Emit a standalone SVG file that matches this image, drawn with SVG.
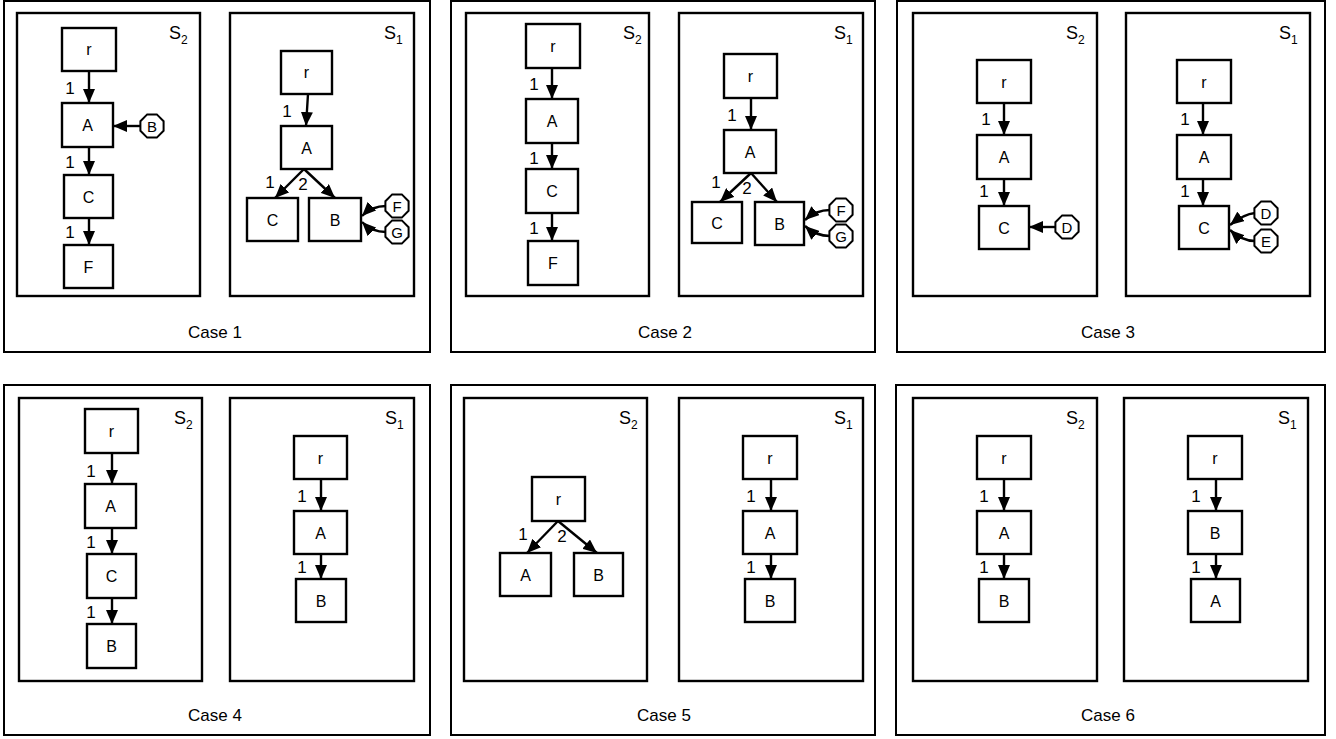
<svg xmlns="http://www.w3.org/2000/svg" xmlns:xlink="http://www.w3.org/1999/xlink" width="1336" height="739" viewBox="0 0 1336 739">
<style>
.frame{fill:#fff;stroke:#000;stroke-width:2}
.sbox{fill:none;stroke:#000;stroke-width:2.4}
.n{fill:#fff;stroke:#000;stroke-width:2.4}
.o{fill:#fff;stroke:#000;stroke-width:2}
.e{fill:none;stroke:#000;stroke-width:2.4;marker-end:url(#ah)}
text{font-family:"Liberation Sans",Arial,Helvetica,sans-serif;fill:#000}
.nt{font-size:16px;text-anchor:middle}
.ot{font-size:15px;text-anchor:middle}
.el{font-size:17px;text-anchor:middle}
.sl{font-size:18px}
.sub{font-size:12px}
.cl{font-size:17px;text-anchor:middle}
</style>
<defs>
<marker id="ah" viewBox="0 0 14 12" refX="14" refY="6" markerWidth="14" markerHeight="12" markerUnits="userSpaceOnUse" orient="auto">
<path d="M0,0 L14,6 L0,12 z" fill="#000"/>
</marker>
<polygon id="oct" points="11.6,4.8 4.8,11.6 -4.8,11.6 -11.6,4.8 -11.6,-4.8 -4.8,-11.6 4.8,-11.6 11.6,-4.8"/>
</defs>
<rect width="1336" height="739" fill="#fff"/>

<!-- ===== Case 1 ===== -->
<g id="case1">
<rect class="frame" x="4" y="1" width="426" height="351"/>
<rect class="sbox" x="17" y="13" width="183" height="283"/>
<text class="sl" x="169" y="39">S<tspan class="sub" dy="5">2</tspan></text>
<rect class="sbox" x="230" y="13" width="184" height="283"/>
<text class="sl" x="384" y="39">S<tspan class="sub" dy="5">1</tspan></text>
<text class="cl" x="215" y="338">Case 1</text>
</g>
<g id="c1s2-r"><rect class="n" x="62" y="28" width="54" height="43"/><text class="nt" x="89" y="55">r</text></g>
<g id="c1s2-A"><rect class="n" x="62" y="103" width="51" height="44"/><text class="nt" x="87.5" y="131">A</text></g>
<g id="c1s2-C"><rect class="n" x="64" y="175" width="49" height="43"/><text class="nt" x="88.5" y="202.5">C</text></g>
<g id="c1s2-F"><rect class="n" x="64" y="245" width="49" height="43"/><text class="nt" x="88.5" y="272.5">F</text></g>
<g id="c1s2-B"><use href="#oct" class="o" x="152" y="126"/><text class="ot" x="152" y="131.5">B</text></g>
<g id="c1s1-r"><rect class="n" x="281" y="51" width="51" height="43"/><text class="nt" x="306.5" y="78">r</text></g>
<g id="c1s1-A"><rect class="n" x="281" y="126" width="51" height="43"/><text class="nt" x="306.5" y="153.5">A</text></g>
<g id="c1s1-C"><rect class="n" x="247" y="198" width="51" height="43"/><text class="nt" x="272.5" y="225.5">C</text></g>
<g id="c1s1-B"><rect class="n" x="309" y="198" width="52" height="43"/><text class="nt" x="335" y="225.5">B</text></g>
<g id="c1s1-F"><use href="#oct" class="o" x="397" y="206"/><text class="ot" x="397" y="211.5">F</text></g>
<g id="c1s1-G"><use href="#oct" class="o" x="397" y="232"/><text class="ot" x="397" y="237.5">G</text></g>

<!-- ===== Case 2 ===== -->
<g id="case2">
<rect class="frame" x="451" y="1" width="424" height="351"/>
<rect class="sbox" x="466" y="13" width="183" height="283"/>
<text class="sl" x="623" y="39">S<tspan class="sub" dy="5">2</tspan></text>
<rect class="sbox" x="679" y="13" width="184" height="283"/>
<text class="sl" x="834" y="39">S<tspan class="sub" dy="5">1</tspan></text>
<text class="cl" x="665" y="338">Case 2</text>
</g>
<g id="c2s2-r"><rect class="n" x="526" y="24" width="54" height="44"/><text class="nt" x="553" y="52">r</text></g>
<g id="c2s2-A"><rect class="n" x="526" y="99" width="52" height="44"/><text class="nt" x="552" y="127">A</text></g>
<g id="c2s2-C"><rect class="n" x="526" y="169" width="52" height="44"/><text class="nt" x="552" y="197">C</text></g>
<g id="c2s2-F"><rect class="n" x="528" y="241" width="50" height="44"/><text class="nt" x="553" y="269">F</text></g>
<g id="c2s1-r"><rect class="n" x="724" y="54" width="53" height="44"/><text class="nt" x="750.5" y="82">r</text></g>
<g id="c2s1-A"><rect class="n" x="724" y="130" width="52" height="43"/><text class="nt" x="750" y="157.5">A</text></g>
<g id="c2s1-C"><rect class="n" x="692" y="202" width="50" height="41"/><text class="nt" x="717" y="228.5">C</text></g>
<g id="c2s1-B"><rect class="n" x="755" y="202" width="49" height="43"/><text class="nt" x="779.5" y="229.5">B</text></g>
<g id="c2s1-F"><use href="#oct" class="o" x="841" y="210"/><text class="ot" x="841" y="215.5">F</text></g>
<g id="c2s1-G"><use href="#oct" class="o" x="841" y="236"/><text class="ot" x="841" y="241.5">G</text></g>

<!-- ===== Case 3 ===== -->
<g id="case3">
<rect class="frame" x="897" y="1" width="428" height="351"/>
<rect class="sbox" x="913" y="13" width="184" height="283"/>
<text class="sl" x="1066" y="39">S<tspan class="sub" dy="5">2</tspan></text>
<rect class="sbox" x="1126" y="13" width="184" height="283"/>
<text class="sl" x="1279" y="39">S<tspan class="sub" dy="5">1</tspan></text>
<text class="cl" x="1108" y="338">Case 3</text>
</g>
<g id="c3s2-r"><rect class="n" x="977" y="60" width="54" height="43"/><text class="nt" x="1004" y="87.5">r</text></g>
<g id="c3s2-A"><rect class="n" x="977" y="135" width="54" height="44"/><text class="nt" x="1004" y="163">A</text></g>
<g id="c3s2-C"><rect class="n" x="979" y="206" width="50" height="43"/><text class="nt" x="1004" y="233.5">C</text></g>
<g id="c3s2-D"><use href="#oct" class="o" x="1067" y="227"/><text class="ot" x="1067" y="232.5">D</text></g>
<g id="c3s1-r"><rect class="n" x="1177" y="60" width="54" height="43"/><text class="nt" x="1204" y="87.5">r</text></g>
<g id="c3s1-A"><rect class="n" x="1177" y="135" width="54" height="44"/><text class="nt" x="1204" y="163">A</text></g>
<g id="c3s1-C"><rect class="n" x="1179" y="206" width="50" height="43"/><text class="nt" x="1204" y="233.5">C</text></g>
<g id="c3s1-D"><use href="#oct" class="o" x="1266" y="213"/><text class="ot" x="1266" y="218.5">D</text></g>
<g id="c3s1-E"><use href="#oct" class="o" x="1266" y="241"/><text class="ot" x="1266" y="246.5">E</text></g>

<!-- ===== Case 4 ===== -->
<g id="case4">
<rect class="frame" x="4" y="385" width="426" height="350"/>
<rect class="sbox" x="19" y="398" width="183" height="283"/>
<text class="sl" x="174" y="424">S<tspan class="sub" dy="5">2</tspan></text>
<rect class="sbox" x="230" y="398" width="184" height="283"/>
<text class="sl" x="385" y="424">S<tspan class="sub" dy="5">1</tspan></text>
<text class="cl" x="215" y="721">Case 4</text>
</g>
<g id="c4s2-r"><rect class="n" x="85" y="409" width="53" height="44"/><text class="nt" x="111.5" y="437">r</text></g>
<g id="c4s2-A"><rect class="n" x="85" y="484" width="51" height="44"/><text class="nt" x="110.5" y="512">A</text></g>
<g id="c4s2-C"><rect class="n" x="87" y="554" width="49" height="44"/><text class="nt" x="111.5" y="582">C</text></g>
<g id="c4s2-B"><rect class="n" x="87" y="624" width="49" height="44"/><text class="nt" x="111.5" y="652">B</text></g>
<g id="c4s1-r"><rect class="n" x="294" y="436" width="53" height="43"/><text class="nt" x="320.5" y="463.5">r</text></g>
<g id="c4s1-A"><rect class="n" x="294" y="511" width="53" height="43"/><text class="nt" x="320.5" y="538.5">A</text></g>
<g id="c4s1-B"><rect class="n" x="296" y="579" width="50" height="43"/><text class="nt" x="321" y="606.5">B</text></g>

<!-- ===== Case 5 ===== -->
<g id="case5">
<rect class="frame" x="451" y="385" width="424" height="350"/>
<rect class="sbox" x="464" y="398" width="183" height="283"/>
<text class="sl" x="619" y="424">S<tspan class="sub" dy="5">2</tspan></text>
<rect class="sbox" x="679" y="398" width="184" height="283"/>
<text class="sl" x="834" y="424">S<tspan class="sub" dy="5">1</tspan></text>
<text class="cl" x="664" y="721">Case 5</text>
</g>
<g id="c5s2-r"><rect class="n" x="532" y="477" width="53" height="44"/><text class="nt" x="558.5" y="505">r</text></g>
<g id="c5s2-A"><rect class="n" x="500" y="553" width="51" height="43"/><text class="nt" x="525.5" y="580.5">A</text></g>
<g id="c5s2-B"><rect class="n" x="574" y="553" width="49" height="43"/><text class="nt" x="598.5" y="580.5">B</text></g>
<g id="c5s1-r"><rect class="n" x="743" y="436" width="54" height="43"/><text class="nt" x="770" y="463.5">r</text></g>
<g id="c5s1-A"><rect class="n" x="743" y="511" width="54" height="43"/><text class="nt" x="770" y="538.5">A</text></g>
<g id="c5s1-B"><rect class="n" x="745" y="579" width="50" height="43"/><text class="nt" x="770" y="606.5">B</text></g>

<!-- ===== Case 6 ===== -->
<g id="case6">
<rect class="frame" x="896" y="385" width="429" height="350"/>
<rect class="sbox" x="913" y="398" width="184" height="283"/>
<text class="sl" x="1066" y="424">S<tspan class="sub" dy="5">2</tspan></text>
<rect class="sbox" x="1124" y="398" width="184" height="283"/>
<text class="sl" x="1278" y="424">S<tspan class="sub" dy="5">1</tspan></text>
<text class="cl" x="1108" y="721">Case 6</text>
</g>
<g id="c6s2-r"><rect class="n" x="977" y="436" width="54" height="43"/><text class="nt" x="1004" y="463.5">r</text></g>
<g id="c6s2-A"><rect class="n" x="977" y="511" width="54" height="43"/><text class="nt" x="1004" y="538.5">A</text></g>
<g id="c6s2-B"><rect class="n" x="979" y="579" width="50" height="43"/><text class="nt" x="1004" y="606.5">B</text></g>
<g id="c6s1-r"><rect class="n" x="1188" y="436" width="54" height="43"/><text class="nt" x="1215" y="463.5">r</text></g>
<g id="c6s1-B"><rect class="n" x="1188" y="511" width="54" height="43"/><text class="nt" x="1215" y="538.5">B</text></g>
<g id="c6s1-A"><rect class="n" x="1191" y="579" width="49" height="43"/><text class="nt" x="1215.5" y="606.5">A</text></g>

<!-- ===== Connectors ===== -->
<g id="connectors">
<!-- case 1 -->
<path class="e" d="M89,71 L89,103"/>
<path class="e" d="M89,147 L89,175"/>
<path class="e" d="M89,218 L89,245"/>
<path class="e" d="M140.5,126 L113,126"/>
<path class="e" d="M308,94 L306,126"/>
<path class="e" d="M304,169 L275,198"/>
<path class="e" d="M304,169 L335,198"/>
<path class="e" d="M386,206 Q372,206 362,216"/>
<path class="e" d="M386,232 Q372,232 362,222"/>
<!-- case 2 -->
<path class="e" d="M552,68 L552,99"/>
<path class="e" d="M552,143 L552,169"/>
<path class="e" d="M552,213 L552,241"/>
<path class="e" d="M751,98 L751,130"/>
<path class="e" d="M751,173 L720,202"/>
<path class="e" d="M751,173 L777,202"/>
<path class="e" d="M830,210 Q816,210 805,220"/>
<path class="e" d="M830,236 Q816,236 805,226"/>
<!-- case 3 -->
<path class="e" d="M1004,103 L1004,135"/>
<path class="e" d="M1004,179 L1004,206"/>
<path class="e" d="M1055.5,227 L1029,227"/>
<path class="e" d="M1203,103 L1203,135"/>
<path class="e" d="M1203,179 L1203,206"/>
<path class="e" d="M1255,213 Q1244,214 1230,225"/>
<path class="e" d="M1255,241 Q1242,241 1230,230"/>
<!-- case 4 -->
<path class="e" d="M112,453 L112,484"/>
<path class="e" d="M112,528 L112,554"/>
<path class="e" d="M112,598 L112,624"/>
<path class="e" d="M321,479 L321,511"/>
<path class="e" d="M321,554 L321,579"/>
<!-- case 5 -->
<path class="e" d="M558,521 L527,553"/>
<path class="e" d="M558,521 L597,553"/>
<path class="e" d="M771,479 L771,511"/>
<path class="e" d="M771,554 L771,579"/>
<!-- case 6 -->
<path class="e" d="M1004,479 L1004,511"/>
<path class="e" d="M1004,554 L1004,579"/>
<path class="e" d="M1216,479 L1216,511"/>
<path class="e" d="M1216,554 L1216,579"/>
</g>

<!-- ===== Edge labels ===== -->
<g id="edge-labels">
<text class="el" x="70" y="94">1</text>
<text class="el" x="70" y="168">1</text>
<text class="el" x="70" y="238">1</text>
<text class="el" x="287" y="117">1</text>
<text class="el" x="270" y="188">1</text>
<text class="el" x="303" y="190">2</text>
<text class="el" x="534" y="90">1</text>
<text class="el" x="534" y="164">1</text>
<text class="el" x="534" y="234">1</text>
<text class="el" x="732" y="121">1</text>
<text class="el" x="716" y="188">1</text>
<text class="el" x="747" y="194">2</text>
<text class="el" x="986" y="125">1</text>
<text class="el" x="984" y="197">1</text>
<text class="el" x="1185" y="125">1</text>
<text class="el" x="1185" y="197">1</text>
<text class="el" x="91" y="477">1</text>
<text class="el" x="91" y="548">1</text>
<text class="el" x="91" y="618">1</text>
<text class="el" x="302" y="502">1</text>
<text class="el" x="302" y="573">1</text>
<text class="el" x="523" y="540">1</text>
<text class="el" x="562" y="542">2</text>
<text class="el" x="751" y="502">1</text>
<text class="el" x="751" y="573">1</text>
<text class="el" x="984" y="502">1</text>
<text class="el" x="984" y="573">1</text>
<text class="el" x="1196" y="502">1</text>
<text class="el" x="1196" y="573">1</text>
</g>
</svg>
